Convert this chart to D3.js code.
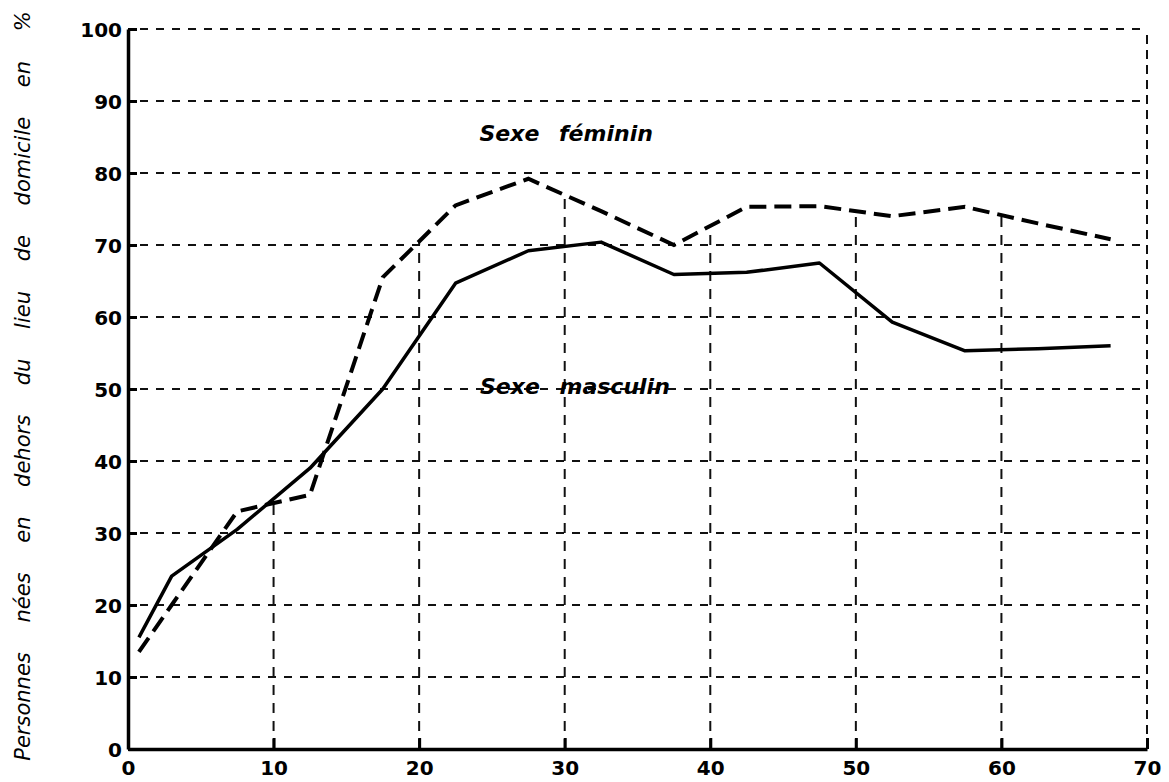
<!DOCTYPE html>
<html>
<head>
<meta charset="utf-8">
<script src="https://cdn.jsdelivr.net/npm/d3@7"></script>
<style>
  body { margin: 0; background: #fff; }
  svg { display: block; }
</style>
</head>
<body>
<div class="container"></div>
<script>
// age (years), share of people born outside their place of residence (%)
var ages = [0.75, 3, 7.5, 12.5, 17.5, 22.5, 27.5, 32.5, 37.5, 42.5, 47.5, 52.5, 57.5, 62.5, 67.5];
var feminin = [13.5, 20, 33, 35.3, 65.5, 75.5, 79.2, 74.7, 70, 75.3, 75.4, 74, 75.3, 73, 70.8];
var masculin = [15.5, 24, 30.5, 39, 50, 64.7, 69.2, 70.4, 65.9, 66.2, 67.5, 59.3, 55.3, 55.6, 56.0];
var xTicks = [0, 10, 20, 30, 40, 50, 60, 70];
var yTicks = [0, 10, 20, 30, 40, 50, 60, 70, 80, 90, 100];

const WIDTH = 1169;
const HEIGHT = 782;
const LEFT = 128, RIGHT = 1147, TOP = 29, BOTTOM = 749;

var svg = d3.select('.container').append('svg')
  .attr('width', WIDTH)
  .attr('height', HEIGHT);

var x = d3.scaleLinear().domain([0, 70]).range([LEFT, RIGHT]);
var y = d3.scaleLinear().domain([0, 100]).range([BOTTOM, TOP]);

var fem = ages.map(function (a, i) { return [a, feminin[i]]; });
var mas = ages.map(function (a, i) { return [a, masculin[i]]; });

// value of a series at position v (straight segments between points)
var valueAt = function (pts, v) {
  for (var i = 0; i < pts.length - 1; i++) {
    if (v >= pts[i][0] && v <= pts[i + 1][0]) {
      var t = (v - pts[i][0]) / (pts[i + 1][0] - pts[i][0]);
      return pts[i][1] + t * (pts[i + 1][1] - pts[i][1]);
    }
  }
  return 100;
};

var grid = svg.append('g')
  .attr('stroke', '#111')
  .attr('stroke-width', 2)
  .attr('fill', 'none');

// horizontal grid lines
grid.selectAll('.hgrid')
  .data(yTicks.filter(function (d) { return d > 0; }))
  .enter().append('line')
  .attr('x1', x(0) + 12)
  .attr('x2', x(70))
  .attr('y1', function (d) { return y(d); })
  .attr('y2', function (d) { return y(d); })
  .attr('stroke-dasharray', '8,8');

// vertical grid lines rise only up to the upper curve
grid.selectAll('.vgrid')
  .data(xTicks.filter(function (d) { return d > 0 && d < 70; }))
  .enter().append('line')
  .attr('x1', function (d) { return x(d); })
  .attr('x2', function (d) { return x(d); })
  .attr('y1', y(0))
  .attr('y2', function (d) { return y(Math.max(valueAt(fem, d), valueAt(mas, d))); })
  .attr('stroke-dasharray', '10,8');

// right border
grid.append('line')
  .attr('x1', x(70)).attr('x2', x(70))
  .attr('y1', y(0)).attr('y2', y(100))
  .attr('stroke-dasharray', '9,6');

// axes
var yAxis = d3.axisLeft(y).tickValues(yTicks).tickSize(-9).tickSizeOuter(0).tickPadding(18);
var xAxis = d3.axisBottom(x).tickValues(xTicks).tickSize(-11).tickSizeOuter(0).tickPadding(12);

var gy = svg.append('g').attr('transform', 'translate(' + LEFT + ',0)').call(yAxis);
var gx = svg.append('g').attr('transform', 'translate(0,' + BOTTOM + ')').call(xAxis);

[gx, gy].forEach(function (g) {
  g.select('.domain').attr('stroke', '#000').attr('stroke-width', 3.5);
  g.selectAll('.tick line').attr('stroke', '#000').attr('stroke-width', 3);
  g.selectAll('.tick text')
    .attr('fill', '#000')
    .style('font-family', '"DejaVu Sans", sans-serif')
    .style('font-weight', 'bold')
    .style('font-size', '20px');
});
gy.selectAll('.tick text').attr('dy', '0.35em').attr('x', -6);
gx.selectAll('.tick text').attr('y', 12).attr('dy', '0.72em');

var line = d3.line()
  .x(function (d) { return x(d[0]); })
  .y(function (d) { return y(d[1]); });

svg.append('path')
  .datum(mas)
  .attr('d', line)
  .attr('fill', 'none')
  .attr('stroke', '#000')
  .attr('stroke-width', 3.5)
  .attr('stroke-linejoin', 'round');

svg.append('path')
  .datum(fem)
  .attr('d', line)
  .attr('fill', 'none')
  .attr('stroke', '#000')
  .attr('stroke-width', 4)
  .attr('stroke-dasharray', '17,8');

// series labels
var labelStyle = function (t) {
  t.attr('text-anchor', 'middle')
    .attr('fill', '#000')
    .style('font-family', '"DejaVu Sans", sans-serif')
    .style('font-weight', 'bold')
    .style('font-style', 'italic')
    .style('font-size', '22px')
    .style('word-spacing', '12px');
};
svg.append('text').attr('x', x(30.1)).attr('y', y(84.5)).text('Sexe féminin').call(labelStyle);
svg.append('text').attr('x', x(30.7)).attr('y', y(49.3)).text('Sexe masculin').call(labelStyle);

// y axis title
svg.append('text')
  .attr('transform', 'translate(30,386) rotate(-90)')
  .attr('text-anchor', 'middle')
  .attr('fill', '#000')
  .style('font-family', '"DejaVu Sans", sans-serif')
  .style('font-style', 'italic')
  .style('font-size', '21px')
  .style('word-spacing', '23px')
  .text('Personnes nées en dehors du lieu de domicile en %');
</script>
</body>
</html>
